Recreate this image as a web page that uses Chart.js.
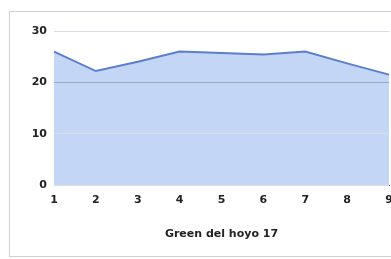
<!DOCTYPE html>
<html>
<head>
<meta charset="utf-8">
<script src="https://cdn.jsdelivr.net/npm/chart.js@4"></script>
<style>
  html, body { margin: 0; padding: 0; background: #fff; overflow: hidden; }
  #wrap { position: relative; width: 391px; height: 259px; }
  #frame { position: absolute; left: 9px; top: 11px; width: 400px; height: 246px; border: 1px solid #d0d0d0; box-sizing: border-box; }
  canvas { position: absolute; left: 0; top: 0; }
</style>
</head>
<body>
<div id="wrap">
  <div id="frame"></div>
  <canvas id="chart" width="391" height="259"></canvas>
</div>
<script>
// hoyos del green
var holes = ['1', '2', '3', '4', '5', '6', '7', '8', '9']
var values = [26, 22.2, 24, 26, 25.7, 25.4, 26, 23.7, 21.5]
var axisTitle = 'Green del hoyo 17'

var font = { family: 'DejaVu Sans, sans-serif', size: 11, weight: 'bold' }

var ctx = document.getElementById('chart').getContext('2d')
var chart = new Chart(ctx, {
  type: 'line',
  data: {
    labels: holes,
    datasets: [{
      data: values,
      borderColor: '#5b7fcc',
      backgroundColor: '#c4d6f6',
      borderWidth: 2,
      pointRadius: 0,
      tension: 0,
      fill: 'origin'
    }]
  },
  options: {
    responsive: false,
    animation: false,
    layout: { padding: { top: 31, right: 2, bottom: 0, left: 0 } },
    plugins: { legend: { display: false }, tooltip: { enabled: false } },
    scales: {
      x: {
        offset: false,
        grid: { display: false, drawTicks: false },
        border: { color: '#666', width: 1 },
        ticks: { color: '#222', font: font, padding: 9, maxRotation: 0 },
        title: { display: true, text: axisTitle, color: '#222', font: font, padding: { top: 0, bottom: 18 } },
        afterFit: function (scale) {
          scale.height = 74
          scale.paddingRight = 0
          scale.paddingLeft = 0
        }
      },
      y: {
        min: 0,
        max: 30,
        ticks: { stepSize: 10, color: '#222', font: font, padding: 7 },
        grid: { color: function (c) { return c.tick.value === 20 ? '#9aa8c0' : '#d8dde6' }, drawTicks: false, z: 1 },
        border: { display: false },
        afterFit: function (scale) { scale.width = 54 }
      }
    }
  }
})
</script>
</body>
</html>
